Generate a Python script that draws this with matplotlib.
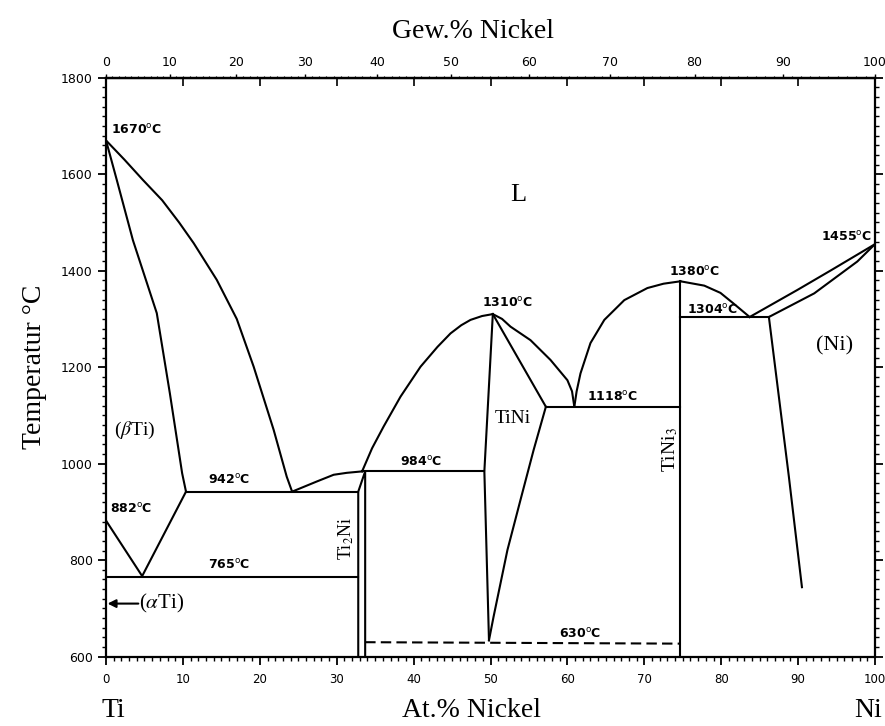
import numpy as np
import matplotlib
matplotlib.use("Agg")
import matplotlib.pyplot as plt
from matplotlib.ticker import MultipleLocator

# --- phase boundaries (at.% Ni, temperature in degC) ---
liq_ti_x = [0, 2.4, 4.8, 7.3, 9.5, 11.4, 14.4, 17.0, 19.2, 21.8, 23.5, 24.2]
liq_ti_t = [1670, 1630, 1588, 1546, 1500, 1457, 1381, 1300, 1201, 1070, 973, 942]

sol_ti_x = [0, 1.4, 3.5, 6.6, 8.3, 9.9, 10.4]
sol_ti_t = [1670, 1588, 1463, 1312, 1146, 980, 942]

beta_alpha_x = [0, 4.7, 10.4]
beta_alpha_t = [882, 767, 942]

liq_ti2ni_x = [24.2, 27.4, 29.6, 31.3, 33.3]
liq_ti2ni_t = [942, 963, 977, 981, 984]

liq_tini_left_x = [33.3, 34.6, 36.1, 38.3, 40.9, 43.1, 44.8, 46.2, 47.4, 48.9, 50.3]
liq_tini_left_t = [984, 1032, 1077, 1139, 1201, 1242, 1270, 1287, 1298, 1306, 1310]

liq_tini_right_x = [50.3, 51.5, 52.6, 55.2, 57.8, 60.0, 60.6, 60.9]
liq_tini_right_t = [1310, 1300, 1284, 1256, 1215, 1173, 1150, 1118]

tini_left_x = [50.3, 49.2, 49.8]
tini_left_t = [1310, 984, 634]

tini_diag_x = [50.3, 57.2]
tini_diag_t = [1310, 1118]

tini_right_x = [49.8, 50.4, 52.2, 53.9, 55.6, 57.2]
tini_right_t = [634, 683, 821, 925, 1028, 1118]

liq_tini3_left_x = [60.9, 61.2, 61.7, 63.0, 64.8, 67.4, 70.4, 72.5, 74.7]
liq_tini3_left_t = [1118, 1150, 1187, 1250, 1298, 1339, 1364, 1373, 1378]

liq_tini3_right_x = [74.7, 77.8, 79.9, 81.6, 83.7]
liq_tini3_right_t = [1378, 1369, 1354, 1332, 1304]

liq_ni_x = [83.7, 89.9, 94.3, 100]
liq_ni_t = [1304, 1360, 1401, 1455]

sol_ni_x = [86.2, 92.1, 97.7, 100]
sol_ni_t = [1304, 1353, 1419, 1455]

solvus_ni_x = [86.2, 88.8, 90.5]
solvus_ni_t = [1304, 973, 744]

# invariant lines: (x_start, x_end, T)
iso_765 = (0, 32.8, 765)
iso_942 = (10.4, 32.8, 942)
iso_984 = (33.3, 49.2, 984)
iso_1118 = (57.2, 74.7, 1118)
iso_1304 = (74.7, 86.2, 1304)
dash_630_x = [33.7, 74.7]
dash_630_t = [630, 627]

ti2ni_x = [32.8, 32.8, 33.7, 33.7]
ti2ni_t = [600, 942, 984, 600]
tini3_x = [74.7, 74.7]
tini3_t = [1378, 600]

# labels (text, x, T)
temp_labels = [("1670", 0.6, 1683), ("882", 0.5, 897), ("942", 13.3, 958),
               ("765", 13.3, 782), ("984", 38.2, 996), ("1310", 48.9, 1324),
               ("1118", 62.5, 1130), ("1380", 73.2, 1390), ("1304", 75.6, 1311),
               ("1455", 93.0, 1462), ("630", 58.9, 638)]

wt_ticks = [0, 10, 20, 30, 40, 50, 60, 70, 80, 90, 100]

M_TI, M_NI = 47.87, 58.69


def wt_to_at(w):
    w = np.asarray(w, dtype=float)
    n_ni = w / M_NI
    n_ti = (100 - w) / M_TI
    return 100 * n_ni / (n_ni + n_ti)


def at_to_wt(a):
    a = np.asarray(a, dtype=float)
    m_ni = a * M_NI
    m_ti = (100 - a) * M_TI
    return 100 * m_ni / (m_ni + m_ti)


fig = plt.figure(figsize=(8.85, 7.26), dpi=100)
ax = fig.add_axes([0.1198, 0.0955, 0.8689, 0.7975])

lw = 1.5
kw = dict(color="black", lw=lw, solid_joinstyle="round")
curves = [(liq_ti_x, liq_ti_t), (sol_ti_x, sol_ti_t), (beta_alpha_x, beta_alpha_t),
          (liq_ti2ni_x, liq_ti2ni_t), (liq_tini_left_x, liq_tini_left_t),
          (liq_tini_right_x, liq_tini_right_t), (tini_left_x, tini_left_t),
          (tini_diag_x, tini_diag_t), (tini_right_x, tini_right_t),
          (liq_tini3_left_x, liq_tini3_left_t), (liq_tini3_right_x, liq_tini3_right_t),
          (liq_ni_x, liq_ni_t), (sol_ni_x, sol_ni_t), (solvus_ni_x, solvus_ni_t),
          (ti2ni_x, ti2ni_t), (tini3_x, tini3_t)]
for cx, ct in curves:
    ax.plot(cx, ct, **kw)

for x0, x1, t in [iso_765, iso_942, iso_984, iso_1118, iso_1304]:
    ax.plot([x0, x1], [t, t], **kw)

ax.plot(dash_630_x, dash_630_t, color="black", lw=lw, linestyle=(0, (5, 2.5)))

for txt, x, t in temp_labels:
    ax.text(x, t, txt + r"$^{\rm o}$C", fontsize=9, fontweight="bold",
            ha="left", va="baseline", family="DejaVu Sans")

serif = "Liberation Serif"
ax.text(52.6, 1545, "L", fontsize=19, family=serif)
ax.text(1.0, 1060, r"($\beta$Ti)", fontsize=14, family=serif, math_fontfamily="stix")
ax.text(50.6, 1085, "TiNi", fontsize=14, family=serif)
ax.text(92.3, 1235, "(Ni)", fontsize=16, family=serif)
ax.text(4.3, 710, r"($\alpha$Ti)", fontsize=15, family=serif, va="center",
        math_fontfamily="stix")
ax.annotate("", xy=(0.2, 710), xytext=(4.2, 710),
            arrowprops=dict(arrowstyle="-|>", color="black", lw=1.5,
                            mutation_scale=12, shrinkA=0, shrinkB=0))
ax.text(31.3, 845, r"Ti$_2$Ni", fontsize=13, family=serif, rotation=90,
        ha="center", va="center", math_fontfamily="stix")
ax.text(73.3, 1030, r"TiNi$_3$", fontsize=14, family=serif, rotation=90,
        ha="center", va="center", math_fontfamily="stix")

ax.set_xlim(0, 100)
ax.set_ylim(600, 1800)
for s in ax.spines.values():
    s.set_linewidth(1.6)

ax.xaxis.set_major_locator(MultipleLocator(10))
ax.xaxis.set_minor_locator(MultipleLocator(1))
ax.yaxis.set_major_locator(MultipleLocator(200))
ax.yaxis.set_minor_locator(MultipleLocator(20))
ax.tick_params(which="major", length=6, width=1.3, direction="out",
               labelsize=9, right=True, top=False)
ax.tick_params(which="minor", length=3, width=1.0, direction="out",
               right=True, top=False)
ax.tick_params(axis="x", which="major", pad=6, labelsize=8.5)

# top: at.% ticks pointing down, wt.% scale on top
top = ax.secondary_xaxis("top", functions=(at_to_wt, wt_to_at))
top.set_xticks(wt_ticks)
top.xaxis.set_minor_locator(MultipleLocator(1))
top.tick_params(which="major", length=3, width=1.0, direction="out", labelsize=9, pad=3)
top.tick_params(which="minor", length=1.5, width=0.8, direction="out")
top2 = ax.secondary_xaxis("top")
top2.xaxis.set_major_locator(MultipleLocator(10))
top2.tick_params(which="major", length=6, width=1.2, direction="in", labeltop=False)
top2.spines["top"].set_linewidth(1.6)

ax.set_ylabel("Temperatur °C", fontsize=20, family=serif, labelpad=10)

fig.text(0.535, 0.957, "Gew.% Nickel", fontsize=20, family=serif, ha="center", va="center")
fig.text(0.533, 0.022, "At.% Nickel", fontsize=20, family=serif, ha="center", va="center")
fig.text(0.128, 0.022, "Ti", fontsize=20, family=serif, ha="center", va="center")
fig.text(0.981, 0.022, "Ni", fontsize=20, family=serif, ha="center", va="center")

fig.savefig("out.png", dpi=100)
